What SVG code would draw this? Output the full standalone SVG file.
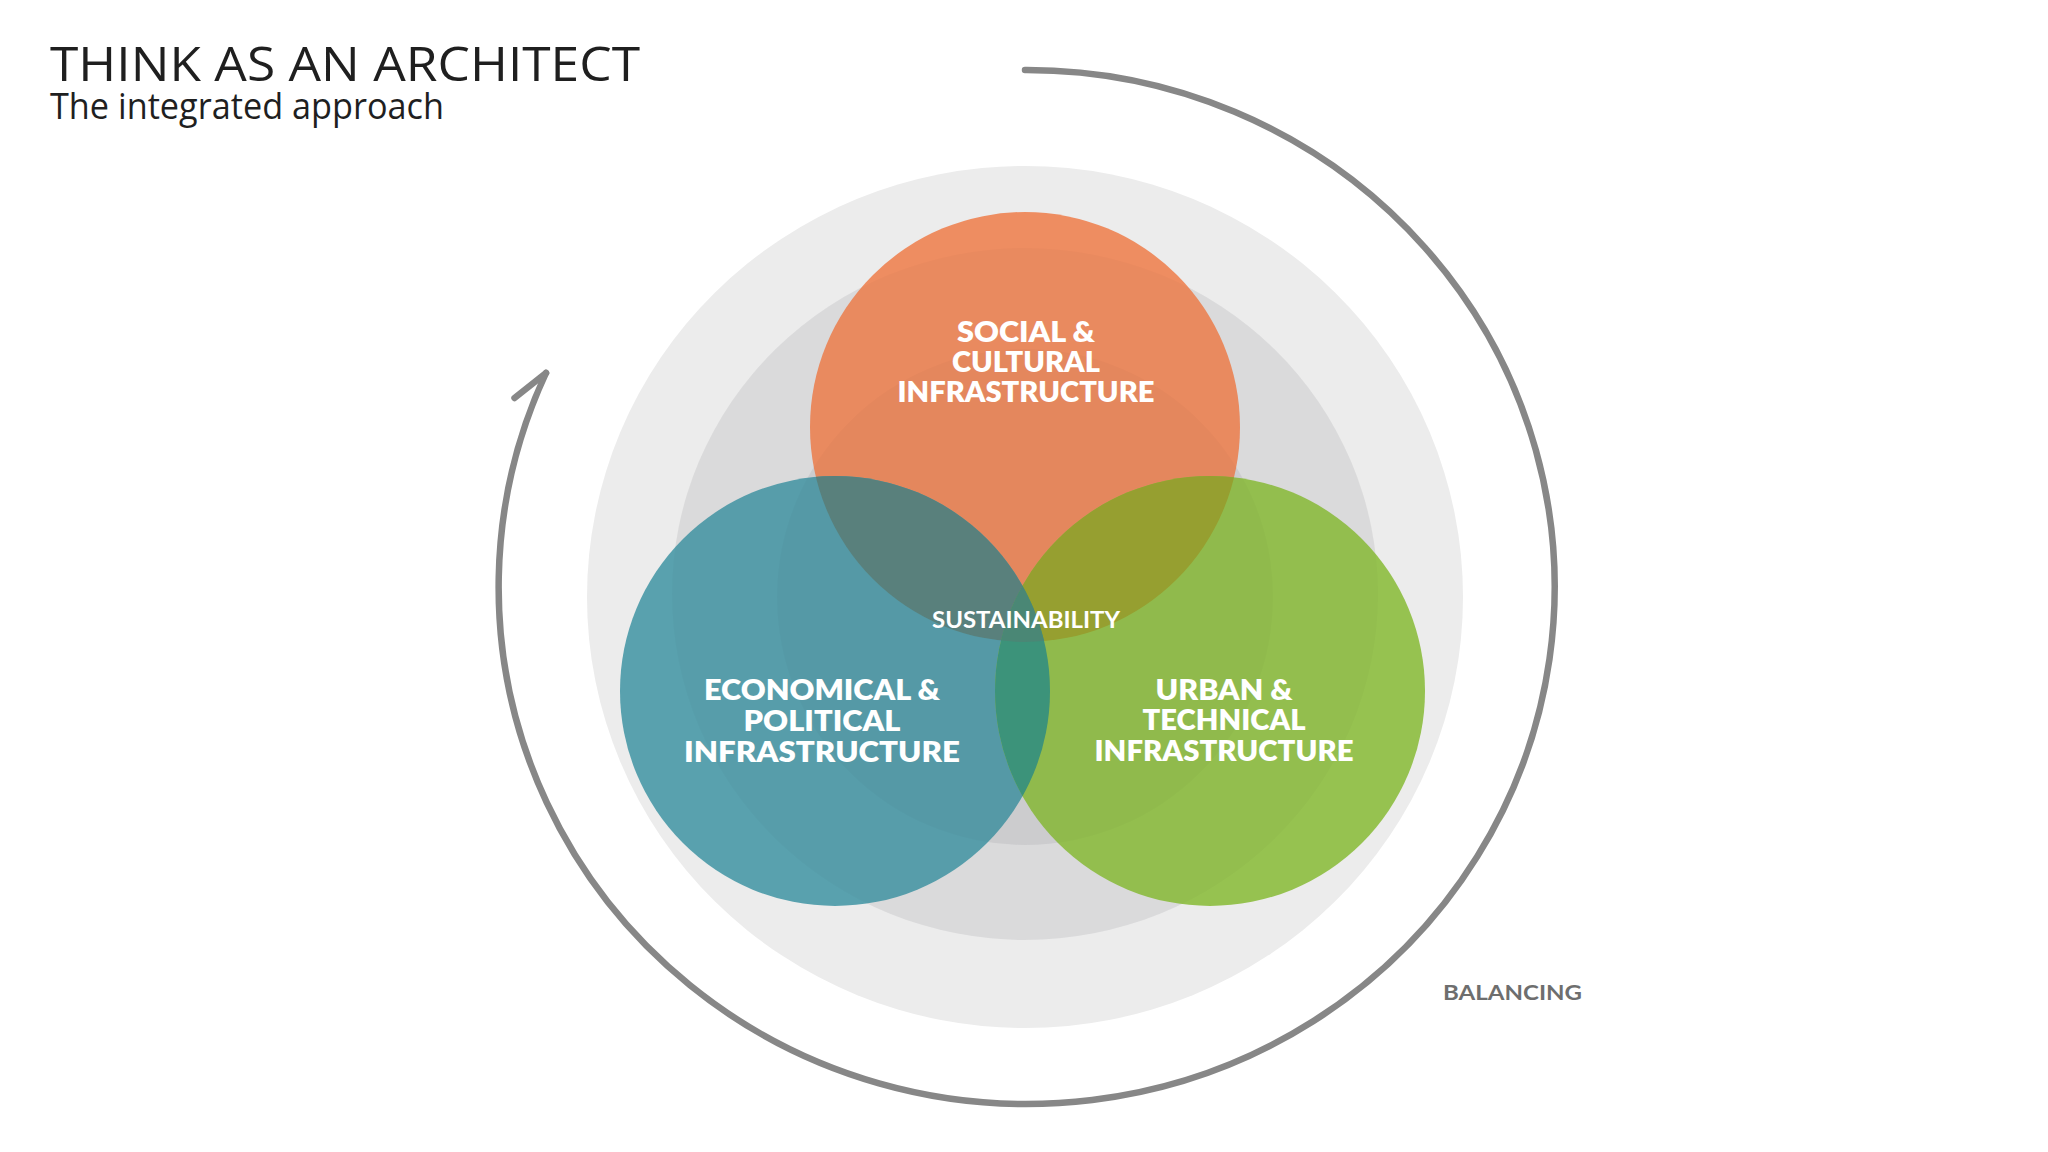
<svg xmlns="http://www.w3.org/2000/svg" width="2048" height="1152" viewBox="0 0 2048 1152">
<style>
.title{font-family:"Open Sans","Lato",sans-serif;fill:#1f1f1f}
.lbl{font-family:"Lato","Open Sans",sans-serif;font-weight:800;fill:#ffffff;text-anchor:middle;font-size:28px}
.sus{font-family:"Lato","Open Sans",sans-serif;font-weight:700;fill:#ffffff;text-anchor:middle;font-size:22px}
.bal{font-family:"Lato","Open Sans",sans-serif;font-weight:700;fill:#6e6e6e;font-size:21px}
.arc{fill:none;stroke:#878787;stroke-width:6.5;stroke-linecap:round;stroke-linejoin:round}
.shade{fill:#000000;fill-opacity:0.018}
</style>
<defs>
<clipPath id="cO"><circle cx="1025" cy="427" r="215"/></clipPath>
<clipPath id="cT"><circle cx="835" cy="691" r="215"/></clipPath>
<marker id="half" markerUnits="userSpaceOnUse" overflow="visible" orient="auto" refX="0" refY="0" markerWidth="1" markerHeight="1">
<path d="M -36 -18 L 0 0" class="arc"/>
</marker>
</defs>
<rect width="2048" height="1152" fill="#ffffff"/>
<g id="title">
<text class="title" x="50" y="81" font-size="48" font-weight="500" textLength="590" lengthAdjust="spacingAndGlyphs">THINK AS AN ARCHITECT</text>
<text class="title" x="50" y="119" font-size="36" textLength="394" lengthAdjust="spacingAndGlyphs">The integrated approach</text>
</g>
<g id="background-rings">
<ellipse cx="1025" cy="597" rx="438" ry="431" fill="#ececec"/>
<ellipse cx="1025" cy="594" rx="353" ry="346" fill="#dfdfe0"/>
<ellipse cx="1025" cy="597" rx="248" ry="248" fill="#d6d6d8"/>
</g>
<g id="social">
<circle cx="1025" cy="427" r="215" fill="#ee8d61"/>
</g>
<g id="economical">
<circle cx="835" cy="691" r="215" fill="#59a1ae"/>
</g>
<g id="urban">
<circle cx="1210" cy="691" r="215" fill="#96c250"/>
</g>
<g id="overlaps">
<g clip-path="url(#cO)"><circle cx="835" cy="691" r="215" fill="#5d8682"/></g>
<g clip-path="url(#cO)"><circle cx="1210" cy="691" r="215" fill="#9da732"/></g>
<g clip-path="url(#cT)"><circle cx="1210" cy="691" r="215" fill="#409980"/></g>
<g clip-path="url(#cO)"><g clip-path="url(#cT)"><circle cx="1210" cy="691" r="215" fill="#4e8d7b"/></g></g>
</g>
<g id="ring-shading">
<ellipse class="shade" cx="1025" cy="594" rx="353" ry="346"/>
<ellipse class="shade" cx="1025" cy="597" rx="248" ry="248"/>
</g>
<g id="labels">
<text class="lbl" x="1026" y="342" textLength="138" lengthAdjust="spacingAndGlyphs">SOCIAL &amp;</text>
<text class="lbl" x="1026" y="372" textLength="148" lengthAdjust="spacingAndGlyphs">CULTURAL</text>
<text class="lbl" x="1026" y="402" textLength="257" lengthAdjust="spacingAndGlyphs">INFRASTRUCTURE</text>
<text class="lbl" x="822" y="700" textLength="236" lengthAdjust="spacingAndGlyphs">ECONOMICAL &amp;</text>
<text class="lbl" x="822" y="731" textLength="157" lengthAdjust="spacingAndGlyphs">POLITICAL</text>
<text class="lbl" x="822" y="762" textLength="276" lengthAdjust="spacingAndGlyphs">INFRASTRUCTURE</text>
<text class="lbl" x="1224" y="700" textLength="137" lengthAdjust="spacingAndGlyphs">URBAN &amp;</text>
<text class="lbl" x="1224" y="730" textLength="163" lengthAdjust="spacingAndGlyphs">TECHNICAL</text>
<text class="lbl" x="1224" y="761" textLength="259" lengthAdjust="spacingAndGlyphs">INFRASTRUCTURE</text>
<text class="sus" x="1026" y="628" textLength="188" lengthAdjust="spacingAndGlyphs">SUSTAINABILITY</text>
<text class="bal" x="1443" y="1000" textLength="139" lengthAdjust="spacingAndGlyphs">BALANCING</text>
</g>
<g id="connectors">
<path class="arc" d="M 1025 70 A 528 517 0 1 1 546 373" marker-end="url(#half)"/>
</g>
</svg>
